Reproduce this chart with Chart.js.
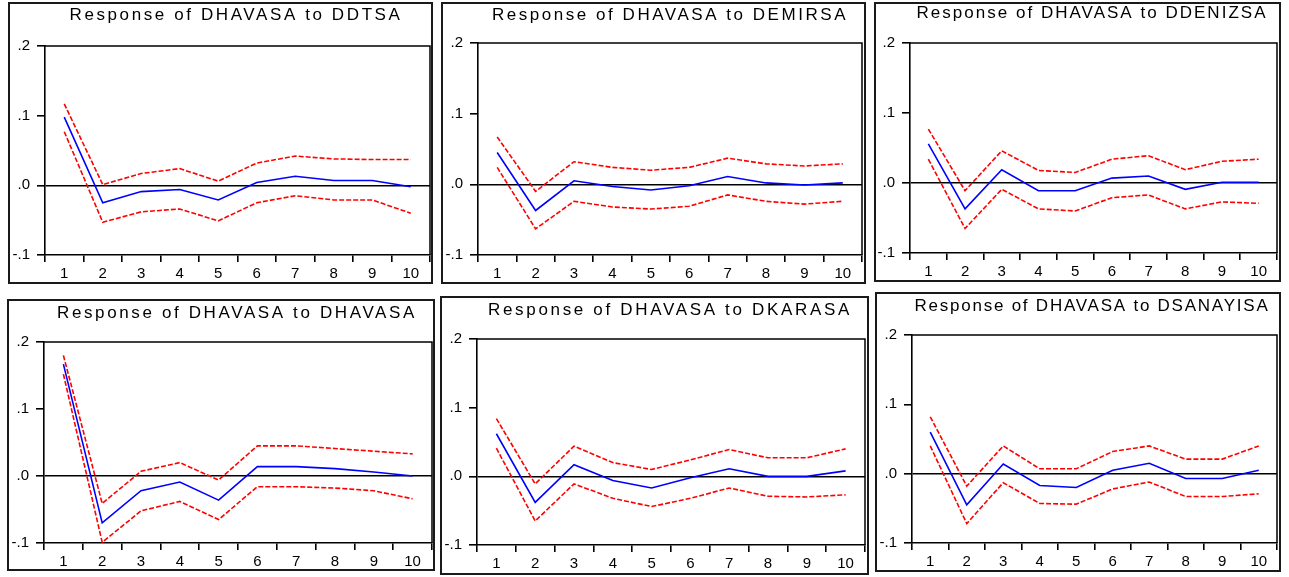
<!DOCTYPE html>
<html>
<head>
<meta charset="utf-8">
<script src="https://cdn.jsdelivr.net/npm/chart.js@4.4.1/dist/chart.umd.min.js"></script>
<style>
  html, body { margin: 0; padding: 0; background: #fff; }
  body { width: 1289px; height: 577px; position: relative; overflow: hidden; }
  canvas { position: absolute; }
  .box { position: absolute; border: 2px solid #1a1a1a; box-sizing: border-box; pointer-events: none; }
</style>
</head>
<body>
<script>
// periods after the shock
var periods = ['1', '2', '3', '4', '5', '6', '7', '8', '9', '10'];
var yTicks = [-0.1, 0, 0.1, 0.2];
var yTickLabels = ['-.1', '.0', '.1', '.2'];

// response of DHAVASA to DDTSA
var ddtsaResp  = [0.098, -0.025, -0.009, -0.006, -0.021, 0.004, 0.013, 0.007, 0.007, -0.002];
var ddtsaUpper = [0.117, 0.001, 0.017, 0.024, 0.006, 0.032, 0.042, 0.038, 0.037, 0.037];
var ddtsaLower = [0.077, -0.053, -0.038, -0.034, -0.051, -0.025, -0.015, -0.021, -0.021, -0.040];

// response of DHAVASA to DEMIRSA
var demirsaResp  = [0.045, -0.037, 0.005, -0.003, -0.008, -0.002, 0.011, 0.002, -0.001, 0.002];
var demirsaUpper = [0.067, -0.010, 0.032, 0.024, 0.020, 0.024, 0.037, 0.029, 0.026, 0.029];
var demirsaLower = [0.024, -0.063, -0.024, -0.032, -0.035, -0.031, -0.015, -0.024, -0.028, -0.024];

// response of DHAVASA to DDENIZSA
var ddenizsaResp  = [0.056, -0.037, 0.019, -0.011, -0.011, 0.007, 0.010, -0.009, 0.001, 0.001];
var ddenizsaUpper = [0.077, -0.011, 0.046, 0.018, 0.015, 0.034, 0.039, 0.019, 0.031, 0.034];
var ddenizsaLower = [0.034, -0.065, -0.009, -0.037, -0.040, -0.021, -0.017, -0.037, -0.027, -0.029];

// response of DHAVASA to DHAVASA
var dhavasaResp  = [0.167, -0.070, -0.022, -0.009, -0.036, 0.014, 0.014, 0.011, 0.006, 0.000];
var dhavasaUpper = [0.180, -0.041, 0.007, 0.020, -0.006, 0.045, 0.045, 0.041, 0.037, 0.033];
var dhavasaLower = [0.152, -0.099, -0.052, -0.038, -0.065, -0.016, -0.016, -0.018, -0.022, -0.034];

// response of DHAVASA to DKARASA
var dkarasaResp  = [0.062, -0.038, 0.017, -0.006, -0.017, -0.002, 0.011, 0.000, 0.000, 0.008];
var dkarasaUpper = [0.084, -0.011, 0.044, 0.020, 0.010, 0.024, 0.039, 0.027, 0.027, 0.040];
var dkarasaLower = [0.041, -0.065, -0.011, -0.032, -0.044, -0.032, -0.017, -0.029, -0.030, -0.027];

// response of DHAVASA to DSANAYISA
var dsanayisaResp  = [0.060, -0.045, 0.014, -0.017, -0.020, 0.005, 0.015, -0.007, -0.007, 0.005];
var dsanayisaUpper = [0.082, -0.018, 0.040, 0.007, 0.007, 0.032, 0.040, 0.021, 0.021, 0.040];
var dsanayisaLower = [0.040, -0.072, -0.013, -0.043, -0.044, -0.022, -0.012, -0.033, -0.033, -0.029];

// page layout: box [x, y, w, h], plot [left, top, right, bottom], title [cx, cy, width]
var panels = [
    {title: 'Response of DHAVASA to DDTSA', resp: ddtsaResp, upper: ddtsaUpper, lower: ddtsaLower,
     box: [8, 2, 425, 282], plot: [45, 46, 430, 255], head: [236, 15, 333]},
    {title: 'Response of DHAVASA to DEMIRSA', resp: demirsaResp, upper: demirsaUpper, lower: demirsaLower,
     box: [441, 2, 425, 282], plot: [478, 43, 862, 255], head: [670, 15, 356]},
    {title: 'Response of DHAVASA to DDENIZSA', resp: ddenizsaResp, upper: ddenizsaUpper, lower: ddenizsaLower,
     box: [874, 2, 407, 280], plot: [910, 43, 1277, 253], head: [1092, 13, 351]},
    {title: 'Response of DHAVASA to DHAVASA', resp: dhavasaResp, upper: dhavasaUpper, lower: dhavasaLower,
     box: [7, 299, 428, 272], plot: [44, 342, 432, 543], head: [237, 313, 360]},
    {title: 'Response of DHAVASA to DKARASA', resp: dkarasaResp, upper: dkarasaUpper, lower: dkarasaLower,
     box: [440, 296, 429, 279], plot: [477, 339, 865, 545], head: [670, 310, 364]},
    {title: 'Response of DHAVASA to DSANAYISA', resp: dsanayisaResp, upper: dsanayisaUpper, lower: dsanayisaLower,
     box: [875, 292, 406, 280], plot: [912, 335, 1277, 543], head: [1092, 306, 355]}
];

var fontFamily = '"Liberation Sans", Arial, sans-serif';

// frame top/right edges of the plot + spaced title
var framePlugin = {
    id: 'frame',
    afterDraw: function (chart) {
        var ctx = chart.ctx, a = chart.chartArea, p = chart.options.panel;
        ctx.save();
        ctx.strokeStyle = '#000';
        ctx.lineWidth = 1.5;
        ctx.beginPath();
        ctx.moveTo(a.left, a.top);
        ctx.lineTo(a.right, a.top);
        ctx.lineTo(a.right, a.bottom);
        ctx.stroke();

        ctx.font = '17px ' + fontFamily;
        ctx.fillStyle = '#000';
        var w = ctx.measureText(p.title).width;
        var sp = Math.max(0, (p.head[2] - w) / p.title.length);
        ctx.letterSpacing = sp + 'px';
        ctx.textAlign = 'left';
        ctx.textBaseline = 'middle';
        ctx.fillText(p.title, p.head[0] - p.box[0] - p.head[2] / 2, p.head[1] - p.box[1]);
        ctx.restore();
    }
};

panels.forEach(function (p) {
    var bx = p.box[0], by = p.box[1], bw = p.box[2], bh = p.box[3];
    var cv = document.createElement('canvas');
    cv.width = bw;
    cv.height = bh;
    cv.style.left = bx + 'px';
    cv.style.top = by + 'px';
    cv.style.width = bw + 'px';
    cv.style.height = bh + 'px';
    document.body.appendChild(cv);

    var frame = document.createElement('div');
    frame.className = 'box';
    frame.style.left = bx + 'px';
    frame.style.top = by + 'px';
    frame.style.width = bw + 'px';
    frame.style.height = bh + 'px';
    document.body.appendChild(frame);

    var yw = p.plot[0] - bx;
    var xh = by + bh - p.plot[3];

    new Chart(cv.getContext('2d'), {
        type: 'line',
        data: {
            labels: periods,
            datasets: [
                {data: p.upper, borderColor: '#ff0000', borderWidth: 1.6, borderDash: [5, 2], pointRadius: 0, tension: 0, fill: false},
                {data: p.lower, borderColor: '#ff0000', borderWidth: 1.6, borderDash: [5, 2], pointRadius: 0, tension: 0, fill: false},
                {data: p.resp, borderColor: '#0000ff', borderWidth: 1.6, pointRadius: 0, tension: 0, fill: false}
            ]
        },
        options: {
            panel: p,
            responsive: false,
            animation: false,
            layout: {padding: {top: p.plot[1] - by, right: bx + bw - p.plot[2], left: 0, bottom: 0}},
            plugins: {legend: {display: false}, tooltip: {enabled: false}, title: {display: false}},
            scales: {
                x: {
                    offset: true,
                    grid: {offset: true, drawOnChartArea: false, drawTicks: true, tickLength: 7, tickColor: '#000', lineWidth: 1.6},
                    border: {display: true, color: '#000', width: 1.6},
                    ticks: {color: '#000', font: {family: fontFamily, size: 15}, padding: 3, maxRotation: 0, autoSkip: false},
                    afterFit: function (s) { s.height = xh; }
                },
                y: {
                    min: -0.1,
                    max: 0.2,
                    grid: {
                        color: function (c) { return c.tick && Math.abs(c.tick.value) < 1e-9 ? '#000' : 'rgba(0,0,0,0)'; },
                        lineWidth: 1.6, tickColor: '#000', tickLength: 8, drawTicks: true
                    },
                    border: {display: true, color: '#000', width: 1.6},
                    ticks: {
                        stepSize: 0.1,
                        color: '#000',
                        padding: 7,
                        font: {family: fontFamily, size: 15},
                        callback: function (v) {
                            for (var i = 0; i < yTicks.length; i++) {
                                if (Math.abs(yTicks[i] - v) < 1e-9) return yTickLabels[i];
                            }
                            return '';
                        }
                    },
                    afterFit: function (s) { s.width = yw; }
                }
            }
        },
        plugins: [framePlugin]
    });
});
</script>
</body>
</html>
